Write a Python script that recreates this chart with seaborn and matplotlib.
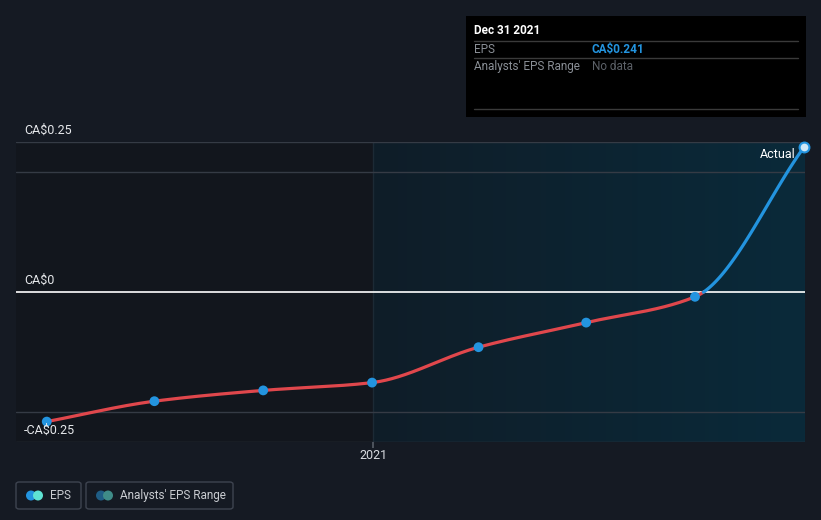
import numpy as np
import pandas as pd
import matplotlib
matplotlib.use("Agg")
import matplotlib.pyplot as plt
import matplotlib.dates as mdates
from matplotlib.patches import FancyBboxPatch, Rectangle, Ellipse
from matplotlib.transforms import blended_transform_factory
from matplotlib.colors import LinearSegmentedColormap
import seaborn as sns

# ---- data ----
dates = ["2020-03-31", "2020-06-30", "2020-09-30", "2020-12-31",
         "2021-03-31", "2021-06-30", "2021-09-30", "2021-12-31"]
eps = [-0.216, -0.182, -0.164, -0.151, -0.092, -0.051, -0.008, 0.241]
ytick_vals = [0.25, 0, -0.25]
ytick_labels = ["CA$0.25", "CA$0", "-CA$0.25"]
grid_vals = [0.25, 0.2, -0.2, -0.25]
xtick_label = "2021"
tooltip_date = "Dec 31 2021"
tooltip_eps = "CA$0.241"

BG = "#151a23"
sns.set_theme(style="dark")
plt.rcParams["font.family"] = ["Roboto", "DejaVu Sans"]

fig = plt.figure(figsize=(8.21, 5.2), dpi=100, facecolor=BG)
W, H = 821, 520
ax = fig.add_axes([16 / W, (H - 442) / H, 789 / W, 300 / H])
ax.set_facecolor("#12161d")

x = mdates.date2num(pd.to_datetime(dates))
y = np.array(eps)

# monotone cubic (Fritsch-Carlson) for smooth rendering through the points
def pchip(xk, yk, xs):
    h = np.diff(xk)
    d = np.diff(yk) / h
    m = np.zeros_like(yk)
    m[0], m[-1] = d[0], d[-1]
    for i in range(1, len(yk) - 1):
        if d[i - 1] * d[i] <= 0:
            m[i] = 0
        else:
            w1 = 2 * h[i] + h[i - 1]
            w2 = h[i] + 2 * h[i - 1]
            m[i] = (w1 + w2) / (w1 / d[i - 1] + w2 / d[i])
    out = np.empty_like(xs)
    for j, xv in enumerate(xs):
        i = min(np.searchsorted(xk, xv, side="right") - 1, len(xk) - 2)
        i = max(i, 0)
        t = (xv - xk[i]) / h[i]
        h00 = 2 * t**3 - 3 * t**2 + 1
        h10 = t**3 - 2 * t**2 + t
        h01 = -2 * t**3 + 3 * t**2
        h11 = t**3 - t**2
        out[j] = h00 * yk[i] + h10 * h[i] * m[i] + h01 * yk[i + 1] + h11 * h[i] * m[i + 1]
    return out

xs = np.linspace(x[0], x[-1], 800)
ys = pchip(x, y, xs)

xmin = x[0] - 26
xmax = x[-1] + 1
x2021 = mdates.date2num(pd.Timestamp("2021-01-01"))

# shaded region with gradient
grad = np.linspace(0, 1, 256).reshape(1, -1)
cmap = LinearSegmentedColormap.from_list("g", ["#0f1d28", "#0a2a3a"])
ax.imshow(grad, extent=[x2021, xmax, -0.25, 0.25], aspect="auto", cmap=cmap, zorder=0)
ax.axvline(x2021, color="#1c2a35", lw=1, zorder=0.5)

for g in grid_vals:
    ax.axhline(g, color="#353b45", lw=1, zorder=1)
ax.axhline(0, color="white", lw=1.2, zorder=2)

neg = ys <= 0
idx = np.where(neg)[0][-1]
df_red = pd.DataFrame({"x": xs[: idx + 2], "y": ys[: idx + 2]})
df_blue = pd.DataFrame({"x": xs[idx:], "y": ys[idx:]})
sns.lineplot(data=df_red, x="x", y="y", ax=ax, color="#e0474c", lw=2.3, zorder=3, sort=False)
sns.lineplot(data=df_blue, x="x", y="y", ax=ax, color="#2394df", lw=2.3, zorder=3, sort=False)

df_pts = pd.DataFrame({"x": x[:-1], "y": y[:-1]})
sns.scatterplot(data=df_pts, x="x", y="y", ax=ax, color="#2394df", s=50, edgecolor="none", zorder=4)
ax.scatter([x[-1]], [y[-1]], s=50, facecolor="#cfe8f7", edgecolor="#2394df", lw=1.5, zorder=5, clip_on=False)

ax.set_xlim(xmin, xmax)
ax.set_ylim(-0.25, 0.25)
ax.set_xlabel("")
ax.set_ylabel("")
ax.set_yticks([])
ax.set_xticks([x2021])
ax.set_xticklabels([xtick_label], color="#d8dbe0", fontsize=9)
ax.tick_params(axis="x", length=4, color="#555b64", pad=1, bottom=True)
for s in ax.spines.values():
    s.set_visible(False)
ax.grid(False)

tr = blended_transform_factory(ax.transAxes, ax.transData)
for v, lab in zip(ytick_vals, ytick_labels):
    ax.text(8 / 789, v + 0.009, lab.replace("$", "\\$"), transform=tr, color="#e6e8eb",
            fontsize=9, va="bottom", ha="left", zorder=6)

ax.text(x[-1] - 7, 0.229, "Actual", color="white", fontsize=9, ha="right", va="center", zorder=6)

# tooltip box
def fx(px):
    return px / W
def fy(py):
    return 1 - py / H

fig.patches.append(Rectangle((fx(466), fy(117)), 340 / W, 101 / H, transform=fig.transFigure,
                             facecolor="black", edgecolor="none", zorder=10))
for ly in [41, 58, 109]:
    fig.add_artist(plt.Line2D([fx(474), fx(798)], [fy(ly), fy(ly)], color="#3a3a3a", lw=1,
                              transform=fig.transFigure, zorder=11))
fig.text(fx(474), fy(30.5), tooltip_date, color="white", fontsize=8.5, fontweight="bold",
         va="center", ha="left", zorder=12)
fig.text(fx(474), fy(49.5), "EPS", color="#8a8f96", fontsize=8.5, va="center", zorder=12)
fig.text(fx(592), fy(49.5), tooltip_eps.replace("$", "\\$"), color="#2394df", fontsize=8.5,
         fontweight="bold", va="center", zorder=12)
fig.text(fx(474), fy(66.5), "Analysts' EPS Range", color="#8a8f96", fontsize=8.5, va="center", zorder=12)
fig.text(fx(592), fy(66.5), "No data", color="#5c6168", fontsize=8.5, va="center", zorder=12)

# legend
def legend_box(x0, x1, c1, c2, label):
    fig.patches.append(FancyBboxPatch((fx(x0), fy(509)), (x1 - x0) / W, 27 / H,
                                      boxstyle="round,pad=0,rounding_size=0.004",
                                      transform=fig.transFigure, facecolor="none",
                                      edgecolor="#3e4450", lw=1, zorder=10))
    fig.patches.append(Ellipse((fx(x0 + 15), fy(495.5)), 10 / W, 10 / H, transform=fig.transFigure,
                               facecolor=c1, edgecolor="none", zorder=11))
    fig.patches.append(Ellipse((fx(x0 + 22), fy(495.5)), 10 / W, 10 / H, transform=fig.transFigure,
                               facecolor=c2, edgecolor="none", zorder=12))
    fig.text(fx(x0 + 34), fy(495.5), label, color="#c9ccd1", fontsize=8.5, va="center", zorder=12)

legend_box(16, 81, "#2394df", "#5fe3d3", "EPS")
legend_box(86, 233, "#1f5d85", "#3f8c88", "Analysts' EPS Range")

fig.savefig("out.png", dpi=100, facecolor=BG)
